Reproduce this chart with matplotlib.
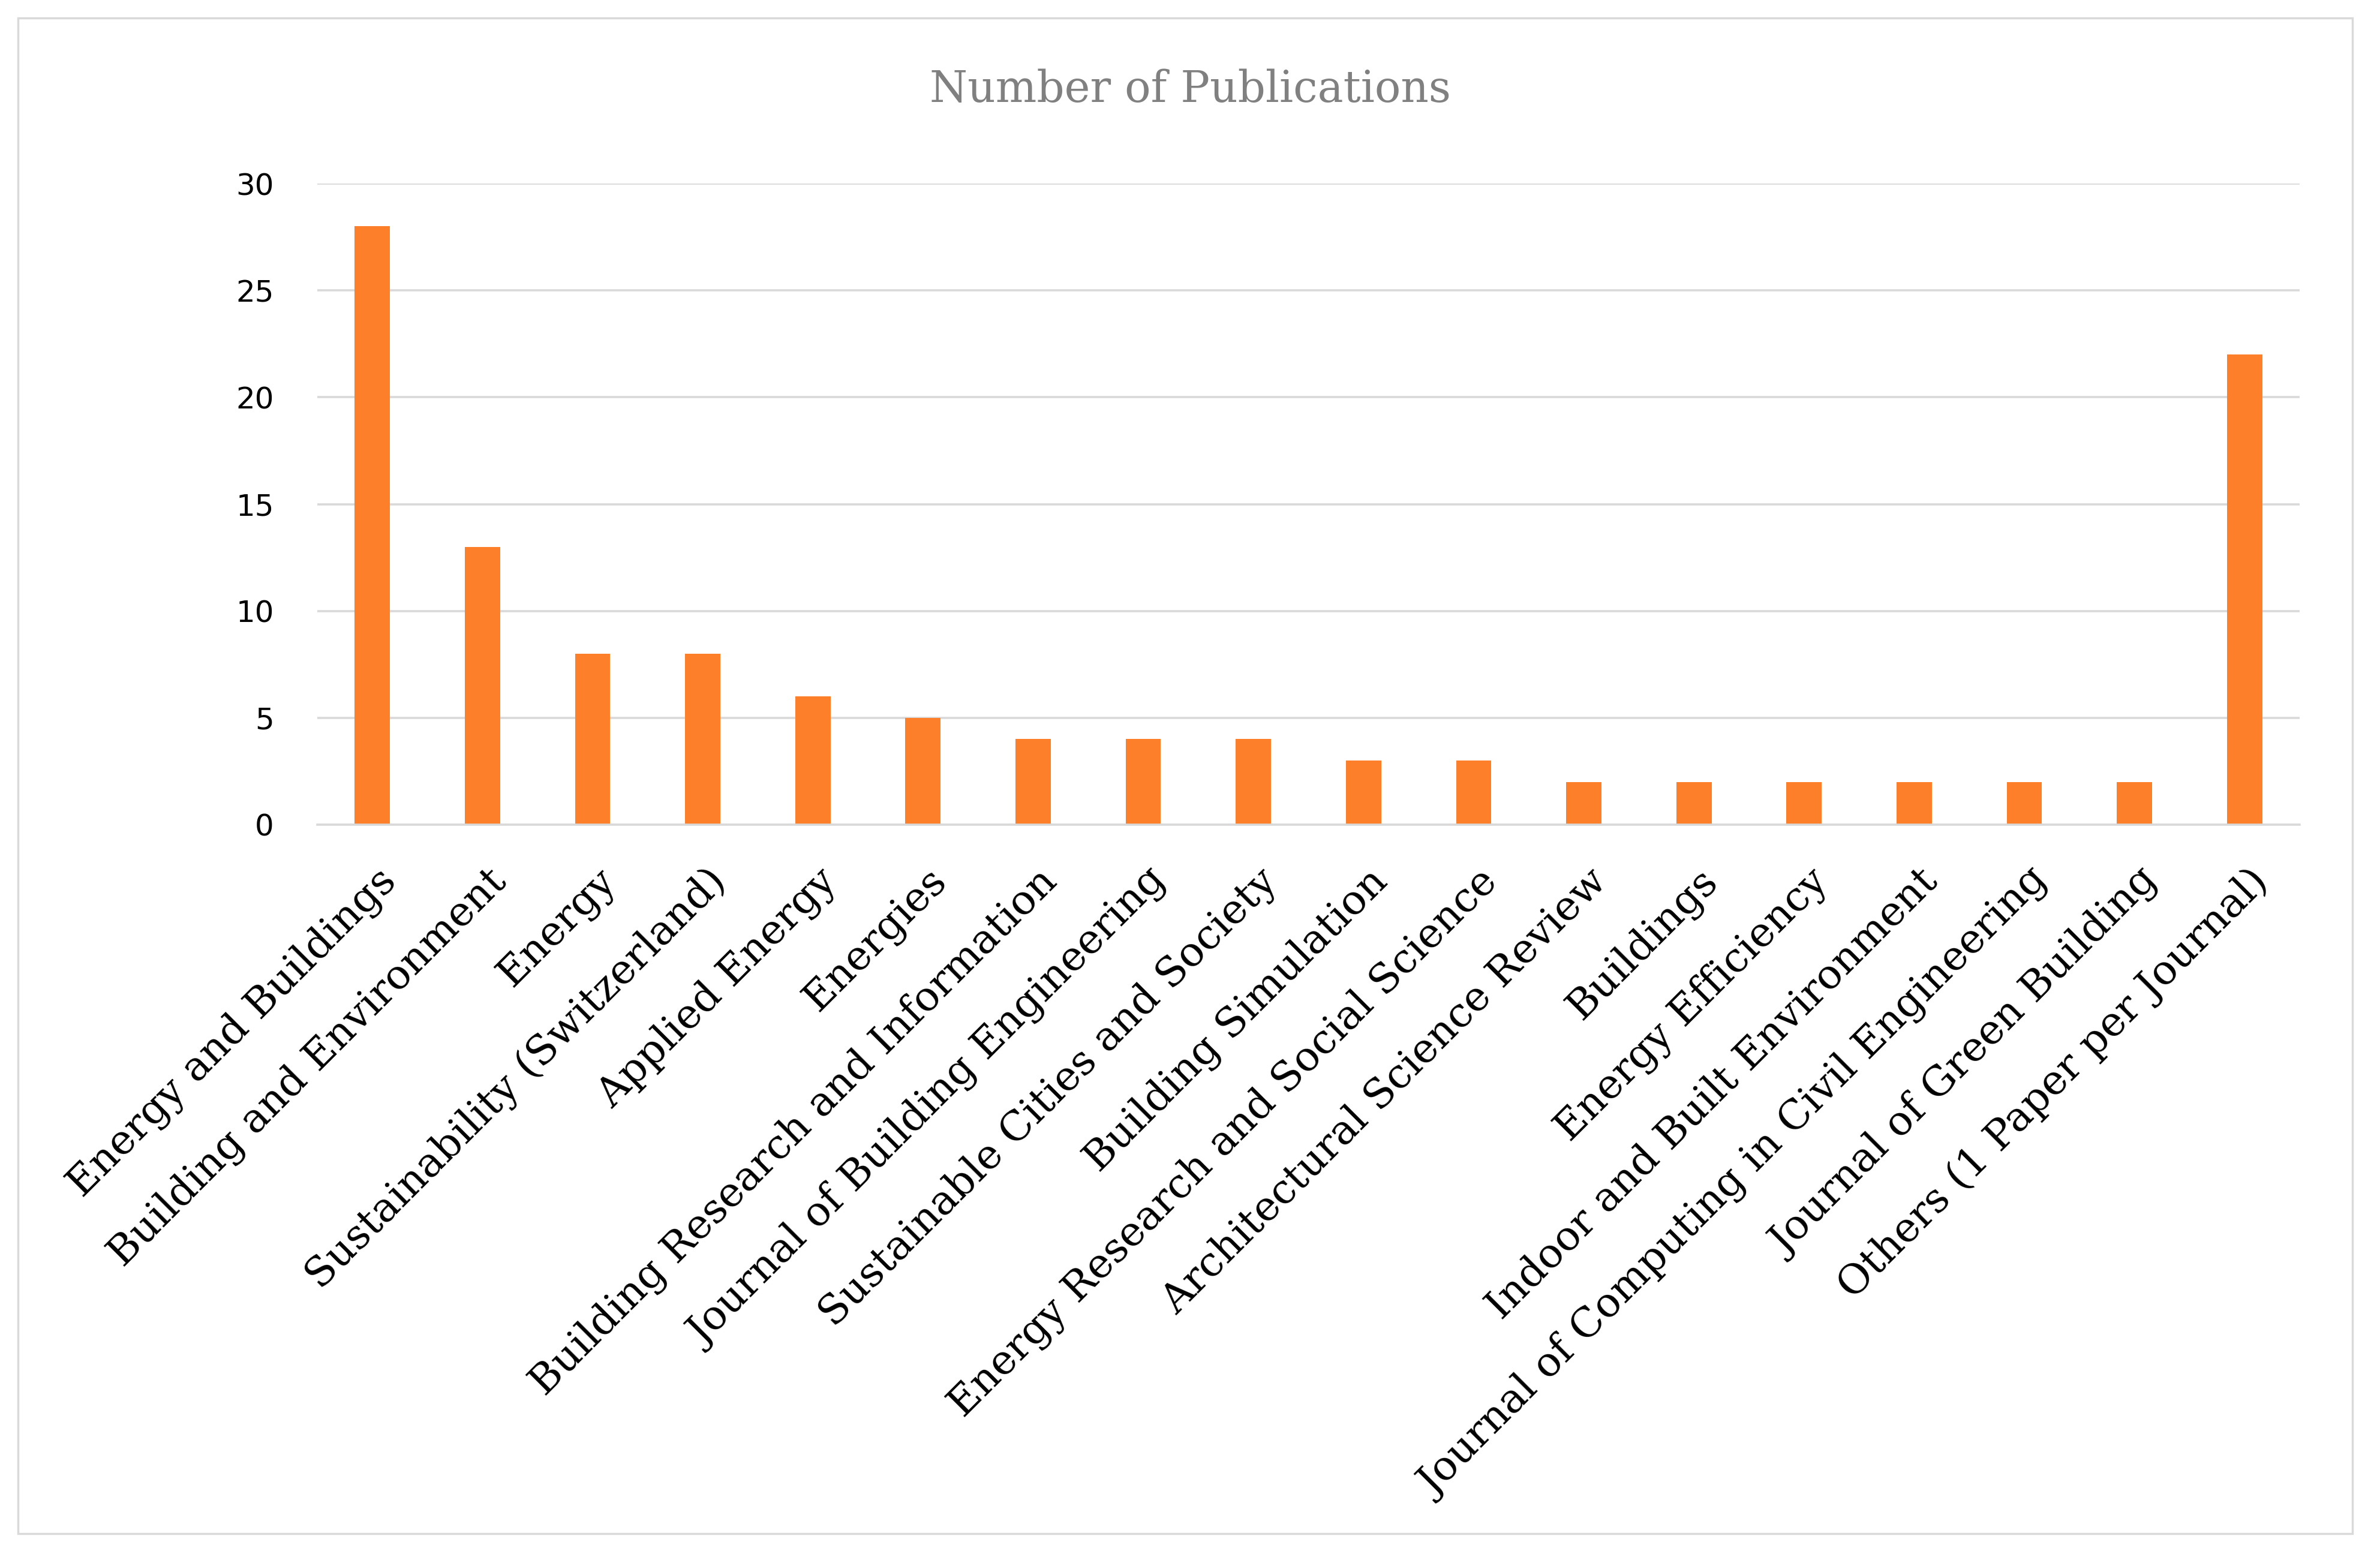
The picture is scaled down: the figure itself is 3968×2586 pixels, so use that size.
import matplotlib
matplotlib.use("Agg")
import matplotlib.pyplot as plt
from matplotlib.patches import Rectangle
from matplotlib.transforms import ScaledTranslation

categories = [
    "Energy and Buildings",
    "Building and Environment",
    "Energy",
    "Sustainability (Switzerland)",
    "Applied Energy",
    "Energies",
    "Building Research and Information",
    "Journal of Building Engineering",
    "Sustainable Cities and Society",
    "Building Simulation",
    "Energy Research and Social Science",
    "Architectural Science Review",
    "Buildings",
    "Energy Efficiency",
    "Indoor and Built Environment",
    "Journal of Computing in Civil Engineering",
    "Journal of Green Building",
    "Others (1 Paper per Journal)",
]
values = [28, 13, 8, 8, 6, 5, 4, 4, 4, 3, 3, 2, 2, 2, 2, 2, 2, 22]
yticks = [0, 5, 10, 15, 20, 25, 30]
title = "Number of Publications"

W, H = 3968, 2586
DPI = 100
fig = plt.figure(figsize=(W / DPI, H / DPI), dpi=DPI)
fig.patch.set_facecolor("white")

x0, x1 = 529, 3834
ytop, ybot = 306, 1375
ax = fig.add_axes([x0 / W, 1 - ybot / H, (x1 - x0) / W, (ybot - ytop) / H])

grid_c = "#d9d9d9"
ax.bar(range(len(categories)), values, width=0.32, color="#FE7F2A", zorder=3)
ax.set_xlim(-0.5, len(categories) - 0.5)
ax.set_ylim(0, 30)
ax.set_yticks(yticks)
ax.set_yticklabels([str(t) for t in yticks], fontsize=36, family="DejaVu Sans", color="black")
ax.yaxis.grid(True, color=grid_c, linewidth=2.6, zorder=0)
ax.set_axisbelow(True)
for s in ["top", "right", "left"]:
    ax.spines[s].set_visible(False)
ax.spines["bottom"].set_color(grid_c)
ax.spines["bottom"].set_linewidth(2.6)
ax.spines["bottom"].set_zorder(4)
ax.tick_params(axis="y", length=0, pad=52)
ax.tick_params(axis="x", length=0, pad=44)
ax.set_xticks(range(len(categories)))
ax.set_xticklabels(categories, rotation=45, ha="right", va="top",
                   rotation_mode="anchor", fontsize=49, family="DejaVu Serif")
off = ScaledTranslation(6 / DPI, 0, fig.dpi_scale_trans)
for lbl in ax.get_xticklabels():
    lbl.set_transform(lbl.get_transform() + off)

fig.text(0.5, 1 - 150 / H, title, ha="center", va="center", fontsize=52,
         color="#808080", family="DejaVu Serif")

fig.patches.append(Rectangle((30 / W, 1 - 2557 / H), (3922 - 30) / W, (2557 - 30) / H,
                             transform=fig.transFigure, fill=False,
                             edgecolor=grid_c, linewidth=2.5))

fig.savefig("out.png", dpi=DPI, facecolor="white")
